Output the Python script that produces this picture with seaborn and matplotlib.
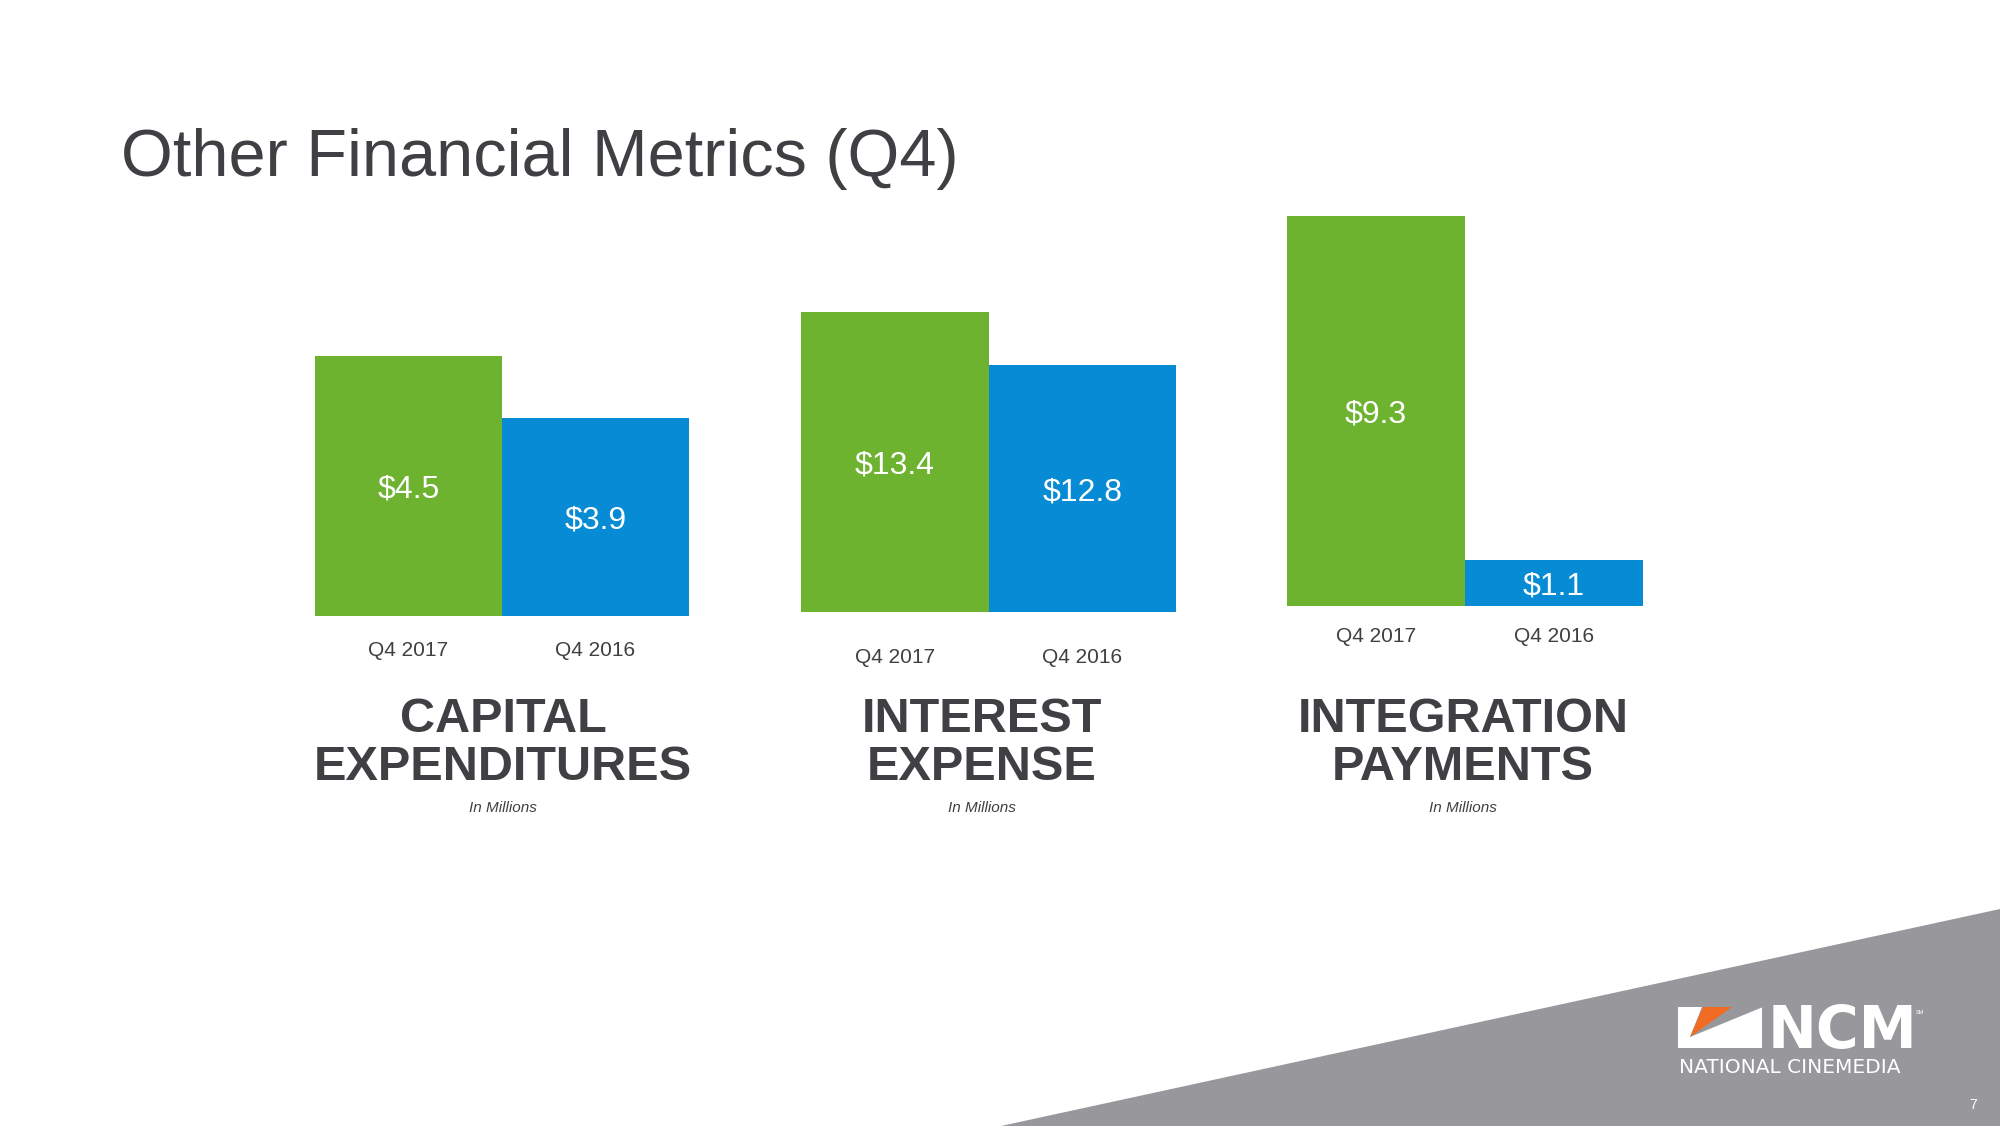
import matplotlib
matplotlib.use("Agg")
import matplotlib.pyplot as plt
from matplotlib.patches import Polygon, Rectangle
import seaborn as sns
import pandas as pd

# ---------------- data ----------------
periods = ["Q4 2017", "Q4 2016"]
metric_line1 = ["CAPITAL", "INTEREST", "INTEGRATION"]
metric_line2 = ["EXPENDITURES", "EXPENSE", "PAYMENTS"]
values_q4_2017 = [4.5, 13.4, 9.3]
values_q4_2016 = [3.9, 12.8, 1.1]
unit_note = "In Millions"
title = "Other Financial Metrics (Q4)"

# ---------------- style ----------------
GREEN = "#6DB330"
BLUE = "#068BD4"
TEXT = "#404044"
GRAY = "#98979B"
ORANGE = "#F26B22"

sns.set_theme(style="white")
plt.rcParams["font.family"] = ["Liberation Sans", "DejaVu Sans"]

W, H = 2000, 1126
fig = plt.figure(figsize=(W / 100, H / 100), dpi=100)
fig.patch.set_facecolor("white")


def fx(px):
    return px / W


def fy(py):
    return 1 - py / H


# background grey wedge
fig.patches.append(Polygon([(fx(1001), fy(1126)), (fx(2000), fy(909)), (fx(2000), fy(1126))],
                           closed=True, transform=fig.transFigure, facecolor=GRAY,
                           edgecolor="none", zorder=0))

# title
fig.text(fx(121), fy(176), title, fontsize=48, color=TEXT, ha="left", va="baseline")

# panel layout (pixels): left, right, baseline of bars, axis floor, px per unit, tick pad
panels = [
    dict(left=315, right=689, base=616, floor=2.0, ppu=104.0, pad=18, cx=503),
    dict(left=801, right=1176, base=612, floor=10.0, ppu=88.2, pad=26, cx=982),
    dict(left=1287, right=1643, base=606, floor=0.0, ppu=41.9, pad=15, cx=1463),
]
AX_H = 460

for i, p in enumerate(panels):
    ax = fig.add_axes([fx(p["left"]), fy(p["base"]), fx(p["right"] - p["left"]), AX_H / H])
    df = pd.DataFrame({"period": periods,
                       "value": [values_q4_2017[i], values_q4_2016[i]]})
    sns.barplot(data=df, x="period", y="value", hue="period", palette=[GREEN, BLUE],
                width=1.0, saturation=1, legend=False, ax=ax, linewidth=0)
    ax.set_xlim(-0.5, 1.5)
    ax.set_ylim(p["floor"], p["floor"] + AX_H / p["ppu"])
    ax.set_facecolor("none")
    for s in ax.spines.values():
        s.set_visible(False)
    ax.set_yticks([])
    ax.set_xlabel("")
    ax.set_ylabel("")
    ax.tick_params(axis="x", length=0, pad=p["pad"], labelsize=15, labelcolor=TEXT)
    for j, v in enumerate(df["value"]):
        ax.text(j, (v + p["floor"]) / 2, f"${v:.1f}", ha="center", va="center_baseline",
                color="white", fontsize=23)
    # section titles
    fig.text(fx(p["cx"]), fy(719), metric_line1[i], fontsize=35, fontweight="bold",
             color=TEXT, ha="center", va="center")
    fig.text(fx(p["cx"]), fy(767), metric_line2[i], fontsize=35, fontweight="bold",
             color=TEXT, ha="center", va="center")
    fig.text(fx(p["cx"]), fy(808), unit_note, fontsize=11, style="italic",
             color=TEXT, ha="center", va="center")

# logo
fig.patches.append(Rectangle((fx(1678), fy(1048)), fx(84), 41 / H, transform=fig.transFigure,
                             facecolor="white", edgecolor="none", zorder=2))
fig.patches.append(Polygon([(fx(1702), fy(1007)), (fx(1763), fy(1007)), (fx(1690), fy(1037))],
                           closed=True, transform=fig.transFigure, facecolor=GRAY,
                           edgecolor="none", zorder=3))
fig.patches.append(Polygon([(fx(1703), fy(1007)), (fx(1732), fy(1007)), (fx(1690), fy(1037))],
                           closed=True, transform=fig.transFigure, facecolor=ORANGE,
                           edgecolor="none", zorder=4))
fig.text(fx(1768), fy(1048), "NCM", fontsize=42, fontweight="bold", color="white",
         family="DejaVu Sans", ha="left", va="baseline")
fig.text(fx(1916), fy(1012), "SM", fontsize=4, color="white", ha="left", va="center")
fig.text(fx(1679), fy(1073), "NATIONAL CINEMEDIA", fontsize=14.5, color="white",
         family="DejaVu Sans", ha="left", va="baseline")
fig.text(fx(1973), fy(1105), "7", fontsize=10, color="white", ha="center", va="center")

fig.savefig("out.png", dpi=100, facecolor="white")
